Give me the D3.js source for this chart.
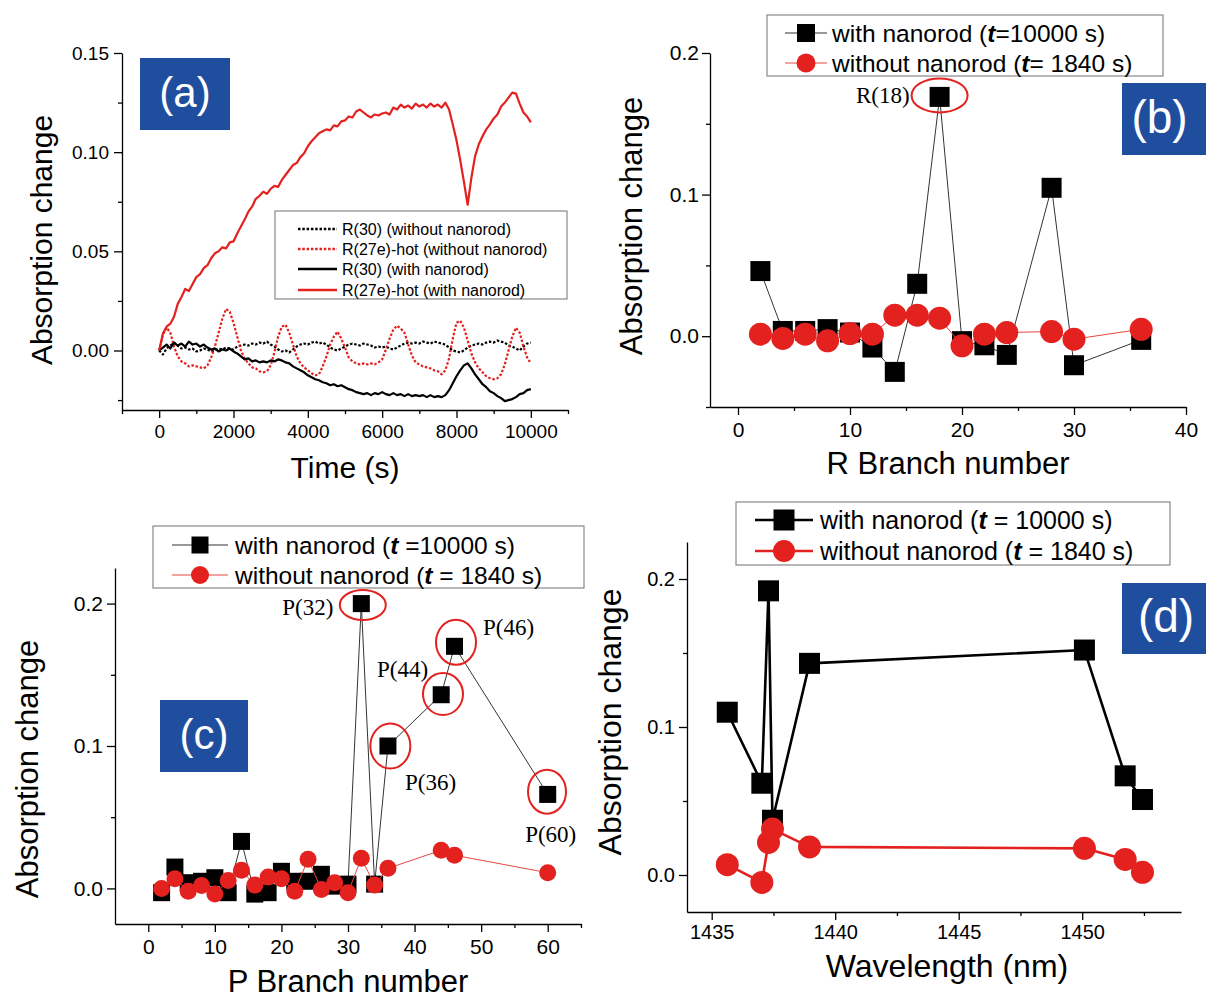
<!DOCTYPE html>
<html>
<head>
<meta charset="utf-8">
<script src="https://cdn.jsdelivr.net/npm/d3@7/dist/d3.min.js"></script>
<style>
    body { margin: 0; background: #fff; }
    svg text { font-family: "Liberation Sans", Arial, sans-serif; }
</style>
</head>
<body>
<svg id="fig" width="1206" height="1000"></svg>
<script>
"use strict";

/** (a) time traces, sampled every 100 s */
var timeSec = [
    0, 100, 200, 300, 400, 500, 600, 700, 800, 900, 1000, 1100, 1200, 1300, 1400, 1500, 1600, 1700, 1800, 1900,
    2000, 2100, 2200, 2300, 2400, 2500, 2600, 2700, 2800, 2900, 3000, 3100, 3200, 3300, 3400, 3500, 3600, 3700, 3800, 3900,
    4000, 4100, 4200, 4300, 4400, 4500, 4600, 4700, 4800, 4900, 5000, 5100, 5200, 5300, 5400, 5500, 5600, 5700, 5800, 5900,
    6000, 6100, 6200, 6300, 6400, 6500, 6600, 6700, 6800, 6900, 7000, 7100, 7200, 7300, 7400, 7500, 7600, 7700, 7800, 7900,
    8000, 8100, 8200, 8300, 8400, 8500, 8600, 8700, 8800, 8900, 9000, 9100, 9200, 9300, 9400, 9500, 9600, 9700, 9800, 9900,
    10000];
var r30Without = [
    0.0000, -0.0020, 0.0010, 0.0025, 0.0040, 0.0025, 0.0010, 0.0015, 0.0005, 0.0010, -0.0005, 0.0000, 0.0010, 0.0005, -0.0005, 0.0000, 0.0010, 0.0005, 0.0015, 0.0010,
    0.0005, 0.0020, 0.0025, 0.0030, 0.0025, 0.0035, 0.0030, 0.0040, 0.0035, 0.0045, 0.0030, 0.0020, 0.0005, -0.0005, 0.0000, -0.0010, 0.0005, 0.0020, 0.0030, 0.0035,
    0.0030, 0.0040, 0.0045, 0.0035, 0.0040, 0.0030, 0.0015, 0.0005, 0.0000, 0.0010, 0.0020, 0.0030, 0.0035, 0.0030, 0.0025, 0.0035, 0.0030, 0.0025, 0.0015, 0.0020,
    0.0015, 0.0020, 0.0010, 0.0005, 0.0015, 0.0025, 0.0035, 0.0040, 0.0035, 0.0040, 0.0035, 0.0045, 0.0040, 0.0035, 0.0045, 0.0040, 0.0035, 0.0030, 0.0015, 0.0000,
    -0.0005, -0.0010, 0.0000, 0.0015, 0.0025, 0.0030, 0.0035, 0.0030, 0.0040, 0.0045, 0.0040, 0.0050, 0.0045, 0.0040, 0.0025, 0.0020, 0.0010, 0.0000, 0.0020, 0.0035,
    0.0040];
var r27Without = [
    0.0000, 0.0080, 0.0115, 0.0090, 0.0020, -0.0030, -0.0055, -0.0065, -0.0080, -0.0075, -0.0080, -0.0085, -0.0090, -0.0075, -0.0035, 0.0020, 0.0090, 0.0160, 0.0210, 0.0195,
    0.0140, 0.0070, 0.0000, -0.0040, -0.0065, -0.0085, -0.0090, -0.0105, -0.0110, -0.0105, -0.0075, -0.0010, 0.0070, 0.0120, 0.0130, 0.0090, 0.0030, -0.0030, -0.0065, -0.0085,
    -0.0100, -0.0115, -0.0125, -0.0120, -0.0080, -0.0030, 0.0030, 0.0070, 0.0095, 0.0060, 0.0015, -0.0035, -0.0055, -0.0065, -0.0070, -0.0065, -0.0070, -0.0065, -0.0070, -0.0060,
    -0.0045, 0.0005, 0.0060, 0.0105, 0.0125, 0.0110, 0.0090, 0.0030, -0.0025, -0.0060, -0.0070, -0.0080, -0.0085, -0.0090, -0.0100, -0.0105, -0.0120, -0.0100, -0.0040, 0.0060,
    0.0140, 0.0150, 0.0115, 0.0050, -0.0015, -0.0060, -0.0090, -0.0110, -0.0130, -0.0140, -0.0145, -0.0140, -0.0120, -0.0070, 0.0000, 0.0070, 0.0115, 0.0090, 0.0020, -0.0035,
    -0.0065];
var r30With = [
    0.0000, 0.0015, 0.0030, 0.0010, 0.0040, 0.0025, 0.0035, 0.0020, 0.0045, 0.0030, 0.0035, 0.0020, 0.0030, 0.0015, 0.0005, 0.0010, -0.0005, 0.0005, 0.0000, 0.0010,
    -0.0005, -0.0015, -0.0030, -0.0045, -0.0040, -0.0055, -0.0050, -0.0060, -0.0055, -0.0060, -0.0050, -0.0055, -0.0045, -0.0050, -0.0060, -0.0065, -0.0080, -0.0090, -0.0100, -0.0110,
    -0.0125, -0.0135, -0.0145, -0.0150, -0.0160, -0.0165, -0.0175, -0.0170, -0.0180, -0.0175, -0.0185, -0.0195, -0.0200, -0.0210, -0.0215, -0.0220, -0.0215, -0.0225, -0.0215, -0.0220,
    -0.0210, -0.0220, -0.0225, -0.0215, -0.0225, -0.0220, -0.0230, -0.0220, -0.0230, -0.0225, -0.0230, -0.0225, -0.0235, -0.0225, -0.0235, -0.0230, -0.0235, -0.0225, -0.0200, -0.0165,
    -0.0130, -0.0100, -0.0075, -0.0065, -0.0090, -0.0120, -0.0145, -0.0170, -0.0185, -0.0205, -0.0215, -0.0230, -0.0240, -0.0255, -0.0250, -0.0245, -0.0235, -0.0220, -0.0215, -0.0200,
    -0.0195];
var r27With = [
    0.0000, 0.0085, 0.0120, 0.0135, 0.0170, 0.0235, 0.0270, 0.0310, 0.0300, 0.0335, 0.0370, 0.0385, 0.0415, 0.0430, 0.0465, 0.0490, 0.0500, 0.0520, 0.0515, 0.0545,
    0.0550, 0.0590, 0.0625, 0.0660, 0.0700, 0.0725, 0.0765, 0.0780, 0.0800, 0.0790, 0.0815, 0.0830, 0.0825, 0.0860, 0.0885, 0.0910, 0.0935, 0.0945, 0.0975, 0.0995,
    0.1030, 0.1055, 0.1075, 0.1095, 0.1105, 0.1115, 0.1110, 0.1135, 0.1130, 0.1155, 0.1160, 0.1180, 0.1175, 0.1205, 0.1215, 0.1200, 0.1185, 0.1175, 0.1190, 0.1185,
    0.1195, 0.1200, 0.1190, 0.1225, 0.1215, 0.1240, 0.1225, 0.1235, 0.1220, 0.1245, 0.1230, 0.1240, 0.1225, 0.1245, 0.1230, 0.1240, 0.1225, 0.1250, 0.1215, 0.1140,
    0.1060, 0.0960, 0.0850, 0.0735, 0.0870, 0.0980, 0.1040, 0.1080, 0.1115, 0.1140, 0.1170, 0.1190, 0.1230, 0.1250, 0.1275, 0.1300, 0.1295, 0.1245, 0.1200, 0.1180,
    0.1150];
var timeLegend = ["R(30) (without nanorod)", "R(27e)-hot (without nanorod)", "R(30) (with nanorod)", "R(27e)-hot (with nanorod)"];

/** (b) R branch */
var rBranch = [2, 4, 6, 8, 10, 12, 14, 16, 18, 20, 22, 24, 28, 30, 36];
var rWith = [0.046, 0.0037, 0.0037, 0.005, 0.0026, -0.008, -0.0252, 0.037, 0.169, -0.0035, -0.0064, -0.0132, 0.1048, -0.0205, -0.0026];
var rWithout = [0.0014, -0.0016, 0.0014, -0.0033, 0.0019, 0.0014, 0.0148, 0.0148, 0.0127, -0.0068, 0.0014, 0.0026, 0.0033, -0.0021, 0.0049];
var rMarked = [18];
var rMarkedLabels = ["R(18)"];

/** (c) P branch */
var pBranch = [2, 4, 6, 8, 10, 12, 14, 16, 18, 20, 22, 24, 26, 28, 30, 32, 34, 36, 44, 46, 60];
var pWith = [-0.003, 0.015, 0.004, 0.005, 0.0075, -0.003, 0.033, -0.004, -0.003, 0.012, 0.005, 0.005, 0.0099, 0.0016, 0.003, 0.200, 0.003, 0.100, 0.136, 0.170, 0.066];
var pWithout = [0.0, 0.0068, -0.002, 0.002, -0.004, 0.0056, 0.0127, 0.0023, 0.008, 0.0068, -0.002, 0.0205, -0.0007, 0.004, -0.003, 0.0212, 0.0023, 0.0141, 0.0268, 0.0233, 0.011];
var pMarked = [32, 36, 44, 46, 60];
var pMarkedLabels = ["P(32)", "P(36)", "P(44)", "P(46)", "P(60)"];

/** (d) wavelength */
var wavelength = [1435.63, 1437.03, 1437.3, 1437.46, 1438.96, 1450.09, 1451.74, 1452.44];
var dWith = [0.110, 0.062, 0.192, 0.037, 0.143, 0.152, 0.067, 0.051];
var dWithout = [0.007, -0.005, 0.022, 0.031, 0.019, 0.018, 0.0105, 0.0018];

var branchLegendB = [["with nanorod (", "t", "=10000 s)"], ["without nanorod (", "t", "= 1840 s)"]];
var branchLegendC = [["with nanorod (", "t", " =10000 s)"], ["without nanorod (", "t", " = 1840 s)"]];
var branchLegendD = [["with nanorod (", "t", " = 10000 s)"], ["without nanorod (", "t", " = 1840 s)"]];
var panelTags = ["(a)", "(b)", "(c)", "(d)"];

var RED = "#e3211f";
var BLUE = "#1f4e9f";
var svg = d3.select("#fig");

/** scales and axes of one panel */
function makePanel(p) {
    p.x = d3.scaleLinear().domain(p.xDomain).range([p.left, p.right]);
    p.y = d3.scaleLinear().domain(p.yDomain).range([p.bottom, p.top]);
    var g = svg.append("g");

    function axisG(axis, tx, ty) {
        var a = g.append("g").attr("transform", "translate(" + tx + "," + ty + ")").call(axis);
        a.attr("font-family", "'Liberation Sans', Arial, sans-serif").attr("font-size", p.tickFont);
        a.selectAll("line, path").attr("stroke", "#000").attr("stroke-width", 1.3);
        return a;
    }
    axisG(d3.axisBottom(p.x).tickValues(p.xMinor).tickSize(4).tickFormat(""), 0, p.bottom).select(".domain").remove();
    axisG(d3.axisLeft(p.y).tickValues(p.yMinor).tickSize(4).tickFormat(""), p.left, 0).select(".domain").remove();
    axisG(d3.axisBottom(p.x).tickValues(p.xMajor).tickSize(8).tickSizeOuter(0).tickPadding(p.xPad).tickFormat(p.xFmt), 0, p.bottom);
    axisG(d3.axisLeft(p.y).tickValues(p.yMajor).tickSize(8).tickSizeOuter(0).tickPadding(p.yPad).tickFormat(p.yFmt), p.left, 0);

    g.append("text")
        .attr("x", p.xTitle[0]).attr("y", p.xTitle[1])
        .attr("text-anchor", "middle")
        .attr("font-size", p.titleFont)
        .text(p.xLabel);
    g.append("text")
        .attr("transform", "translate(" + p.yTitle[0] + "," + p.yTitle[1] + ") rotate(-90)")
        .attr("text-anchor", "middle")
        .attr("font-size", p.titleFont)
        .text("Absorption change");
    return p;
}

/** blue panel tag like (a) */
function drawTag(box, label, fontSize) {
    svg.append("rect")
        .attr("x", box[0]).attr("y", box[1]).attr("width", box[2]).attr("height", box[3])
        .attr("fill", BLUE);
    svg.append("text")
        .attr("x", box[0] + box[4]).attr("y", box[1] + box[3] / 2)
        .attr("dy", "0.3em")
        .attr("text-anchor", "middle")
        .attr("fill", "#fff")
        .attr("font-size", fontSize)
        .text(label);
}

function drawSeries(p, xs, ys, style) {
    var pts = xs.map(function (d, i) { return [d, ys[i]]; });
    var line = d3.line().x(function (d) { return p.x(d[0]); }).y(function (d) { return p.y(d[1]); });
    svg.append("path")
        .datum(pts)
        .attr("d", line)
        .attr("fill", "none")
        .attr("stroke", style.lineColor)
        .attr("stroke-width", style.lineWidth)
        .attr("stroke-dasharray", style.dash || null)
        .attr("stroke-linejoin", "round");
    if (style.marker === "square") {
        svg.append("g").selectAll("rect").data(pts).enter().append("rect")
            .attr("x", function (d) { return p.x(d[0]) - style.size / 2; })
            .attr("y", function (d) { return p.y(d[1]) - style.size / 2; })
            .attr("width", style.size).attr("height", style.size)
            .attr("fill", "#000");
    } else if (style.marker === "circle") {
        svg.append("g").selectAll("circle").data(pts).enter().append("circle")
            .attr("cx", function (d) { return p.x(d[0]); })
            .attr("cy", function (d) { return p.y(d[1]); })
            .attr("r", style.size / 2)
            .attr("fill", RED);
    }
}

/** legend with square / circle markers */
function drawBranchLegend(L, labels, styles) {
    svg.append("rect")
        .attr("x", L.box[0]).attr("y", L.box[1]).attr("width", L.box[2]).attr("height", L.box[3])
        .attr("fill", "#fff").attr("stroke", "#888").attr("stroke-width", 1.2);
    labels.forEach(function (parts, i) {
        var cy = L.rows[i], st = styles[i];
        svg.append("line")
            .attr("x1", L.sample[0]).attr("x2", L.sample[1]).attr("y1", cy).attr("y2", cy)
            .attr("stroke", st.lineColor).attr("stroke-width", L.lineWidth);
        var mx = (L.sample[0] + L.sample[1]) / 2;
        if (st.marker === "square") {
            svg.append("rect").attr("x", mx - L.sq / 2).attr("y", cy - L.sq / 2)
                .attr("width", L.sq).attr("height", L.sq).attr("fill", "#000");
        } else {
            svg.append("circle").attr("cx", mx).attr("cy", cy).attr("r", L.dot).attr("fill", RED);
        }
        var t = svg.append("text")
            .attr("x", L.textX).attr("y", cy).attr("dy", "0.35em")
            .attr("font-size", L.font)
            .style("white-space", "pre");
        t.append("tspan").text(parts[0]);
        t.append("tspan").attr("font-weight", "bold").attr("font-style", "italic").text(parts[1]);
        t.append("tspan").text(parts[2]);
    });
}

/** red ellipses and serif labels around marked points */
function drawMarks(p, xs, ys, marked, labels, layout) {
    marked.forEach(function (m, i) {
        var k = xs.indexOf(m), L = layout[i];
        var px = p.x(xs[k]), py = p.y(ys[k]);
        svg.append("ellipse")
            .attr("cx", px + L.ex).attr("cy", py + L.ey).attr("rx", L.rx).attr("ry", L.ry)
            .attr("fill", "none").attr("stroke", RED).attr("stroke-width", 2);
        svg.append("text")
            .attr("x", px + L.lx).attr("y", py + L.ly)
            .attr("text-anchor", L.anchor)
            .style("font-family", "'Liberation Serif', 'Times New Roman', serif")
            .attr("font-size", 23)
            .text(labels[i]);
    });
}

var withStyleThin = { lineColor: "#333", lineWidth: 1, marker: "square", size: 20 };
var withoutStyleThin = { lineColor: "#e8483f", lineWidth: 1, marker: "circle", size: 23 };

/* ---------- (a) ---------- */
var pa = makePanel({
    left: 122, right: 568, top: 53, bottom: 410,
    xDomain: [-1000, 11000], yDomain: [-0.03, 0.15],
    xMajor: [0, 2000, 4000, 6000, 8000, 10000], xMinor: [-1000, 1000, 3000, 5000, 7000, 9000, 11000],
    yMajor: [0, 0.05, 0.1, 0.15], yMinor: [-0.025, 0.025, 0.075, 0.125],
    xFmt: d3.format("d"), yFmt: d3.format(".2f"), tickFont: 19, xPad: 7, yPad: 5,
    xLabel: "Time (s)", xTitle: [345, 478], yTitle: [52, 240], titleFont: 30
});
drawTag([140, 58, 90, 72, 45], panelTags[0], 42);
drawSeries(pa, timeSec, r30Without, { lineColor: "#000", lineWidth: 2.2, dash: "2.5,1.8" });
drawSeries(pa, timeSec, r27Without, { lineColor: RED, lineWidth: 2.2, dash: "2.5,1.8" });
drawSeries(pa, timeSec, r30With, { lineColor: "#000", lineWidth: 2.2 });
drawSeries(pa, timeSec, r27With, { lineColor: RED, lineWidth: 2.2 });

(function () {
    var rows = [229, 249, 269, 290];
    var styles = [["#000", "2.5,1.8"], [RED, "2.5,1.8"], ["#000", null], [RED, null]];
    svg.append("rect").attr("x", 275).attr("y", 211).attr("width", 292).attr("height", 88)
        .attr("fill", "#fff").attr("stroke", "#888").attr("stroke-width", 1.2);
    timeLegend.forEach(function (lab, i) {
        svg.append("line").attr("x1", 298).attr("x2", 337).attr("y1", rows[i]).attr("y2", rows[i])
            .attr("stroke", styles[i][0]).attr("stroke-width", 2.4).attr("stroke-dasharray", styles[i][1]);
        svg.append("text").attr("x", 342).attr("y", rows[i]).attr("dy", "0.35em")
            .attr("font-size", 16).text(lab);
    });
})();

/* ---------- (b) ---------- */
var pb = makePanel({
    left: 710, right: 1186, top: 53, bottom: 407,
    xDomain: [-2.5, 40], yDomain: [-0.05, 0.2],
    xMajor: [0, 10, 20, 30, 40], xMinor: [5, 15, 25, 35],
    yMajor: [0, 0.1, 0.2], yMinor: [-0.05, 0.05, 0.15],
    xFmt: d3.format("d"), yFmt: d3.format(".1f"), tickFont: 21, xPad: 7, yPad: 3,
    xLabel: "R Branch number", xTitle: [948, 474], yTitle: [642, 226], titleFont: 31
});
drawTag([1122, 83, 84, 72, 37.5], panelTags[1], 46);
drawSeries(pb, rBranch, rWith, withStyleThin);
drawSeries(pb, rBranch, rWithout, withoutStyleThin);
drawMarks(pb, rBranch, rWith, rMarked, rMarkedLabels, [{ ex: 0, ey: -1.5, rx: 28, ry: 17, lx: -30, ly: 6, anchor: "end" }]);
drawBranchLegend({ box: [767, 15, 396, 61], rows: [33, 63], sample: [785, 827], textX: 832, font: 24.5, lineWidth: 1, sq: 18, dot: 9.5 },
    branchLegendB, [withStyleThin, withoutStyleThin]);

/* ---------- (c) ---------- */
var pc = makePanel({
    left: 115, right: 581, top: 568, bottom: 924,
    xDomain: [-5, 65], yDomain: [-0.025, 0.225],
    xMajor: [0, 10, 20, 30, 40, 50, 60], xMinor: [5, 15, 25, 35, 45, 55, 65],
    yMajor: [0, 0.1, 0.2], yMinor: [0.05, 0.15],
    xFmt: d3.format("d"), yFmt: d3.format(".1f"), tickFont: 21, xPad: 7, yPad: 4,
    xLabel: "P Branch number", xTitle: [348, 992], yTitle: [38, 769], titleFont: 31
});
drawTag([160, 700, 88, 72, 44], panelTags[2], 42);
drawSeries(pc, pBranch, pWith, { lineColor: "#333", lineWidth: 1, marker: "square", size: 17 });
drawSeries(pc, pBranch, pWithout, { lineColor: "#e8483f", lineWidth: 1, marker: "circle", size: 17 });
drawMarks(pc, pBranch, pWith, pMarked, pMarkedLabels, [
    { ex: 1.5, ey: 1.4, rx: 23, ry: 15, lx: -28, ly: 11, anchor: "end" },
    { ex: 2.4, ey: 0, rx: 20, ry: 22.5, lx: 17, ly: 44, anchor: "start" },
    { ex: 1.8, ey: -0.7, rx: 20, ry: 21, lx: -13, ly: -18, anchor: "end" },
    { ex: 1.5, ey: -4, rx: 20, ry: 22.5, lx: 28.5, ly: -11, anchor: "start" },
    { ex: -0.7, ey: -2.7, rx: 19, ry: 22, lx: 3, ly: 48, anchor: "middle" }
]);
drawBranchLegend({ box: [153, 526, 431, 62], rows: [545, 575], sample: [172, 228], textX: 235, font: 24.5, lineWidth: 1, sq: 17, dot: 9 },
    branchLegendC, [withStyleThin, withoutStyleThin]);

/* ---------- (d) ---------- */
var pd = makePanel({
    left: 687, right: 1181, top: 542, bottom: 912,
    xDomain: [1434, 1454], yDomain: [-0.025, 0.225],
    xMajor: [1435, 1440, 1445, 1450], xMinor: [1437.5, 1442.5, 1447.5, 1452.5],
    yMajor: [0, 0.1, 0.2], yMinor: [0.05, 0.15],
    xFmt: d3.format("d"), yFmt: d3.format(".1f"), tickFont: 20, xPad: 5, yPad: 4,
    xLabel: "Wavelength (nm)", xTitle: [947, 977], yTitle: [621, 722], titleFont: 32
});
drawTag([1122, 583, 84, 71, 44], panelTags[3], 46);
var withStyleThick = { lineColor: "#000", lineWidth: 2.6, marker: "square", size: 21 };
var withoutStyleThick = { lineColor: RED, lineWidth: 2.6, marker: "circle", size: 23 };
drawSeries(pd, wavelength, dWith, withStyleThick);
drawSeries(pd, wavelength, dWithout, withoutStyleThick);
drawBranchLegend({ box: [736, 502, 434, 63], rows: [520, 551], sample: [755, 813], textX: 820, font: 25, lineWidth: 2.6, sq: 21, dot: 11 },
    branchLegendD, [withStyleThick, withoutStyleThick]);
</script>
</body>
</html>
